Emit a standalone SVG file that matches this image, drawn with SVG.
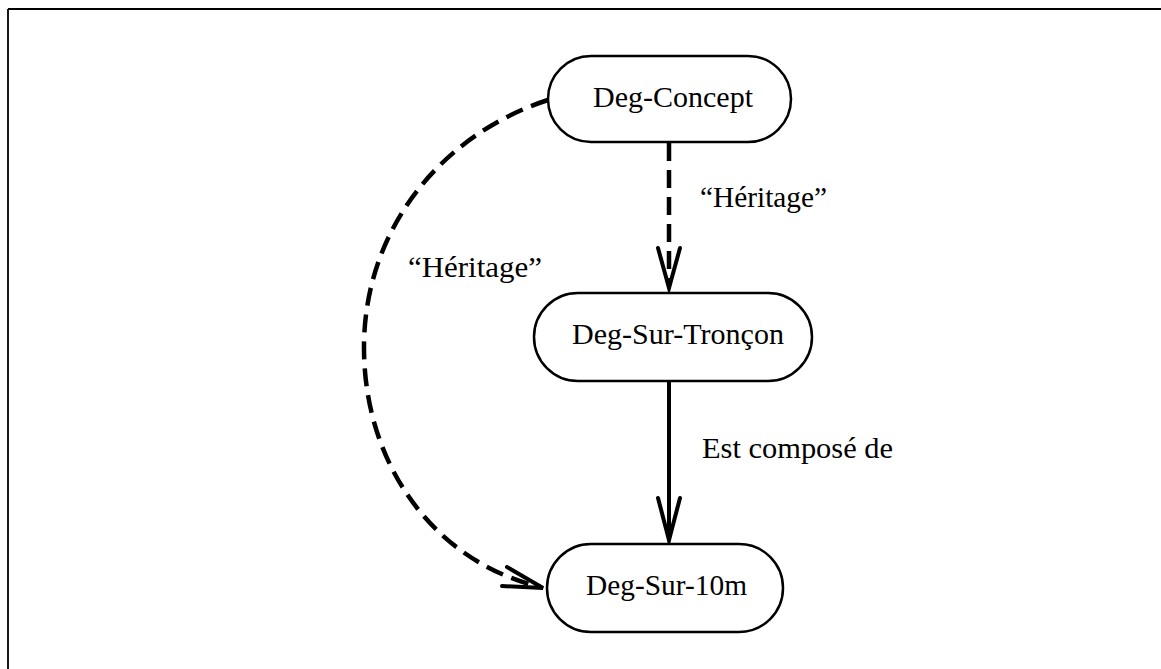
<svg xmlns="http://www.w3.org/2000/svg" width="1161" height="669" viewBox="0 0 1161 669">
<style>
  .node rect { fill: #fff; stroke: #000; stroke-width: 2.5; }
  .node text, .lbl { font-family: "Liberation Serif", "DejaVu Serif", serif; font-size: 29px; fill: #000; }
  .node text { text-anchor: middle; }
  .dash { fill: none; stroke: #000; stroke-width: 4.5; stroke-dasharray: 18 9; }
  .solid { fill: none; stroke: #000; stroke-width: 4; }
  .head { fill: none; stroke: #000; stroke-width: 4; stroke-linejoin: miter; stroke-linecap: round; }
</style>
<rect width="1161" height="669" fill="#fff"/>
<g id="frame">
  <line x1="8" y1="9" x2="1161" y2="9" stroke="#000" stroke-width="1.8"/>
  <line x1="8" y1="9" x2="8" y2="669" stroke="#000" stroke-width="1.8"/>
</g>
<g id="connectors">
  <path class="dash" d="M669,143 L669,284"/>
  <path class="head" d="M658,248 L669,288 L680,248"/>
  <path class="solid" d="M669,381 L669,538"/>
  <path class="head" d="M658,498 L669,540 L680,498"/>
  <path class="dash" d="M548,100 C440,135 365,230 364,345 C363,460 430,560 540,587"/>
  <path class="head" d="M507,567 L543,588 L502,586"/>
  <text class="lbl" x="700" y="207" textLength="127" lengthAdjust="spacingAndGlyphs">“Héritage”</text>
  <text class="lbl" x="408" y="277" textLength="134" lengthAdjust="spacingAndGlyphs">“Héritage”</text>
  <text class="lbl" x="702" y="458" textLength="191" lengthAdjust="spacingAndGlyphs">Est composé de</text>
</g>
<g id="deg-concept" class="node">
  <rect x="548" y="56" width="243" height="86" rx="43" ry="43"/>
  <text x="673" y="107" textLength="160" lengthAdjust="spacingAndGlyphs">Deg-Concept</text>
</g>
<g id="deg-sur-troncon" class="node">
  <rect x="534" y="293" width="278" height="88" rx="44" ry="44"/>
  <text x="678" y="344" textLength="212" lengthAdjust="spacingAndGlyphs">Deg-Sur-Tronçon</text>
</g>
<g id="deg-sur-10m" class="node">
  <rect x="547" y="544" width="236" height="88" rx="44" ry="44"/>
  <text x="666.5" y="595" textLength="161" lengthAdjust="spacingAndGlyphs">Deg-Sur-10m</text>
</g>
</svg>
